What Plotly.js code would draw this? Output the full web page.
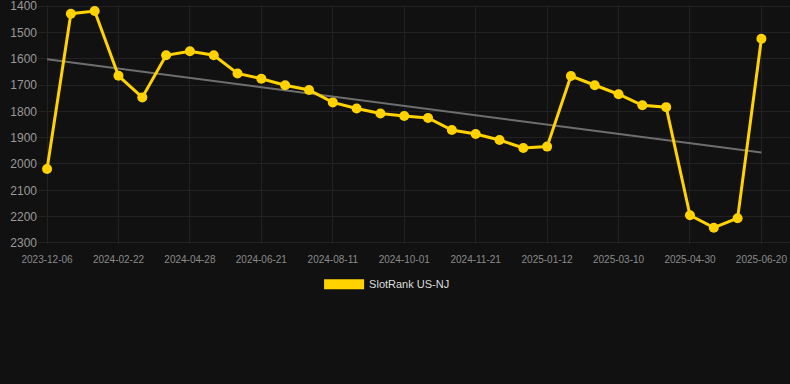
<!DOCTYPE html>
<html>
<head>
<meta charset="utf-8">
<script src="https://cdn.plot.ly/plotly-3.0.1.min.js"></script>
<style>
  html, body { margin: 0; padding: 0; background: #111111; }
  #chart { width: 790px; height: 384px; }
</style>
</head>
<body>
<div id="chart"></div>
<script>
// Categories (dates) – every third one is labelled on the axis
const dates = [
  "2023-12-06", "2023-12-31", "2024-01-27", "2024-02-22", "2024-03-14", "2024-04-06",
  "2024-04-28", "2024-05-16", "2024-06-03", "2024-06-21", "2024-07-08", "2024-07-25",
  "2024-08-11", "2024-08-28", "2024-09-14", "2024-10-01", "2024-10-18", "2024-11-04",
  "2024-11-21", "2024-12-08", "2024-12-25", "2025-01-12", "2025-01-31", "2025-02-19",
  "2025-03-10", "2025-03-27", "2025-04-13", "2025-04-30", "2025-05-17", "2025-06-03",
  "2025-06-20"
];

// SlotRank US-NJ rank values
const rankValues = [
  2019, 1429, 1419, 1665, 1747, 1587, 1572, 1587, 1656, 1676, 1701, 1719,
  1766, 1789, 1808, 1818, 1825, 1871, 1886, 1909, 1939, 1934, 1666, 1701,
  1735, 1777, 1784, 2195, 2242, 2206, 1524
];

const tickDates = [
  "2023-12-06", "2024-02-22", "2024-04-28", "2024-06-21", "2024-08-11", "2024-10-01",
  "2024-11-21", "2025-01-12", "2025-03-10", "2025-04-30", "2025-06-20"
];

const yTicks = [1400, 1500, 1600, 1700, 1800, 1900, 2000, 2100, 2200, 2300];

const seriesName = "SlotRank US-NJ";

// Linear regression trend over the series (by index)
function trend(vals) {
  const n = vals.length;
  let sx = 0, sy = 0, sxy = 0, sxx = 0;
  vals.forEach((v, i) => { sx += i; sy += v; sxy += i * v; sxx += i * i; });
  const slope = (n * sxy - sx * sy) / (n * sxx - sx * sx);
  const icpt = (sy - slope * sx) / n;
  return vals.map((_, i) => icpt + slope * i);
}
const trendValues = trend(rankValues);

const yellow = "#FFD200";
const font = "Arial, 'Liberation Sans', Helvetica, sans-serif";

const traces = [
  {
    x: dates, y: trendValues, type: "scatter", mode: "lines",
    line: { color: "#6e6e6e", width: 2 },
    hoverinfo: "skip", showlegend: false
  },
  {
    x: dates, y: rankValues, type: "scatter", mode: "lines+markers",
    line: { color: yellow, width: 3 },
    marker: { color: yellow, size: 10 },
    name: seriesName, showlegend: false
  },
  {
    x: [null], y: [null], type: "scatter", mode: "lines",
    line: { color: yellow, width: 11 },
    name: seriesName, showlegend: true
  }
];

const layout = {
  width: 790, height: 384,
  paper_bgcolor: "#111111",
  plot_bgcolor: "#111111",
  margin: { l: 38, r: 0, t: 5, b: 140 },
  font: { family: font, color: "#999999" },
  xaxis: {
    type: "category",
    categoryorder: "array", categoryarray: dates,
    range: [-0.38, 31.2],
    tickmode: "array", tickvals: tickDates, ticktext: tickDates,
    tickfont: { size: 10, color: "#8a8a8a" },
    ticklabelstandoff: 8,
    showgrid: true, gridcolor: "#222222", gridwidth: 1,
    zeroline: false, showline: false, ticks: ""
  },
  yaxis: {
    range: [2304, 1396],
    tickmode: "array", tickvals: yTicks,
    tickfont: { size: 12, color: "#999999" },
    ticklabeloverflow: "allow",
    showgrid: true, gridcolor: "#222222", gridwidth: 1,
    zeroline: false, showline: false, ticks: ""
  },
  showlegend: true,
  legend: {
    orientation: "h",
    xref: "container", yref: "container",
    x: 0.49, xanchor: "center",
    y: 0.26, yanchor: "middle",
    font: { size: 11, color: "#dddddd" },
    itemwidth: 40,
    bgcolor: "rgba(0,0,0,0)"
  }
};

Plotly.newPlot("chart", traces, layout, { displayModeBar: false, staticPlot: true });
</script>
</body>
</html>
